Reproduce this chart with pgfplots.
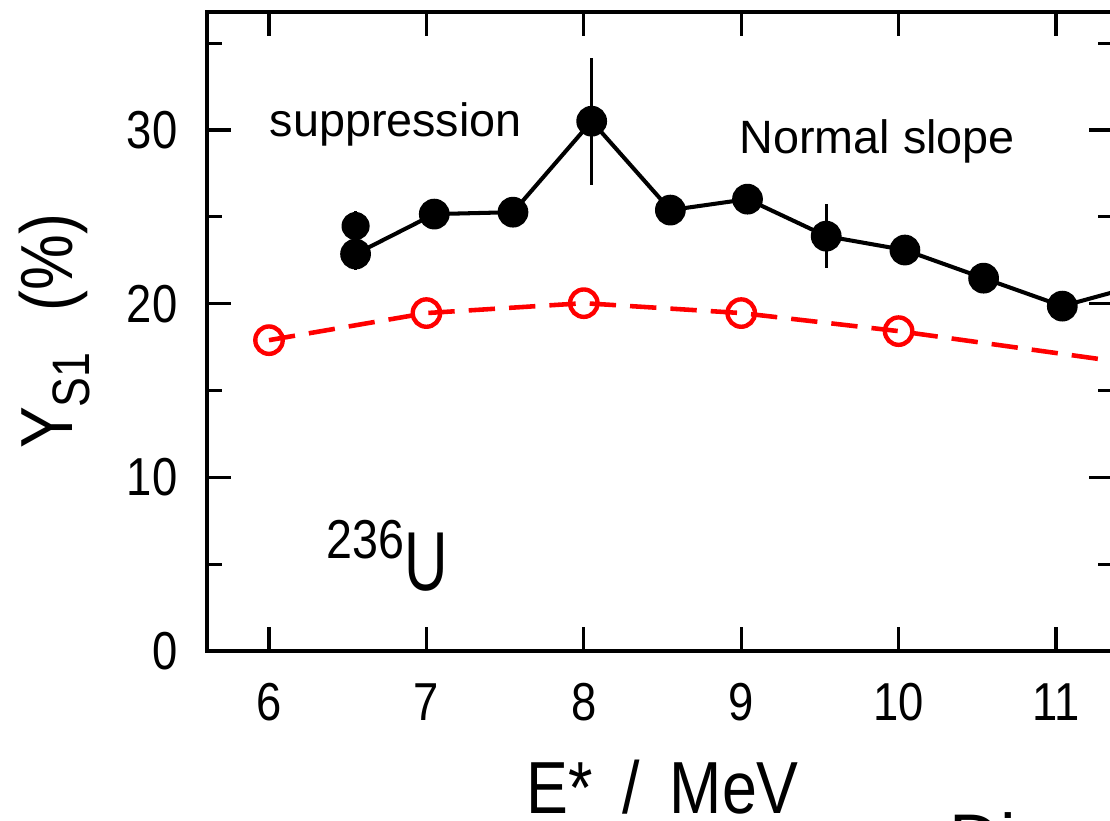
\documentclass[border=0pt]{standalone}
\usepackage{pgfplots}
\pgfplotsset{compat=1.18}
\usepackage{fontspec}
\setmainfont{Liberation Sans}
\newfontfamily\narrow[FakeStretch=0.85]{Liberation Sans}
\newfontfamily\narrowU[FakeStretch=0.72]{Liberation Sans}

\begin{document}
\begin{tikzpicture}
\useasboundingbox (-2.07,-1.70) rectangle (9.03,6.51);
\begin{scope}
\clip (-2.07,-1.70) rectangle (9.03,6.51);
\begin{axis}[
 at={(0,0)}, anchor=south west,
 scale only axis, width=9.06cm, height=6.39cm,
 xmin=5.606, xmax=11.362, ymin=0, ymax=36.8,
 clip=false,
 axis line style={line width=0.95pt},
 tick align=inside,
 xtick={6,...,11}, ytick={0,10,20,30},
 minor ytick={5,15,25,35},
 major tick length=0.24cm, minor tick length=0.15cm,
 every tick/.style={black, line width=0.9pt},
 /pgf/number format/assume math mode=true,
 ticklabel style={font=\narrow\fontsize{15.2}{18}\selectfont, inner sep=0pt},
 xticklabel style={yshift=-0.32cm},
 yticklabel style={xshift=-0.29cm},
 xlabel={E*\ \,/\ \,MeV},
 ylabel={Y\raisebox{-0.18cm}{\fontsize{15}{18}\selectfont S1}\hspace{0.55em}(\%)},
 label style={font=\narrow\fontsize{21}{24}\selectfont},
 xlabel style={at={(axis description cs:0.503,-0.255)}, anchor=base, inner sep=0pt},
 ylabel style={at={(axis description cs:-0.149,0.5)}, anchor=base, inner sep=0pt},
]
% black: measured Y_S1
\addplot[black, line width=1.15pt, mark=*, mark size=3.8pt, mark options={solid},
  error bars/.cd, y dir=both, y explicit, error mark=none,
  error bar style={line width=0.95pt}]
coordinates {
 (6.55,22.86) +- (0,0.9)
 (7.05,25.16) +- (0,0)
 (7.55,25.27) +- (0,0)
 (8.05,30.51) +- (0,3.65)
 (8.55,25.39) +- (0,0)
 (9.04,26.02) +- (0,0)
 (9.54,23.89) +- (0,1.85)
 (10.04,23.09) +- (0,0)
 (10.54,21.47) +- (0,0)
 (11.04,19.86) +- (0,0)
 (11.54,21.10) +- (0,0)
};
\addplot[black, only marks, mark=*, mark size=3.8pt,
  error bars/.cd, y dir=both, y explicit, error mark=none,
  error bar style={line width=0.95pt}]
coordinates {(6.55,24.47) +- (0,0.85)};
% red: calculation
\addplot[red, line width=1.3pt, dash pattern=on 7.5pt off 4pt,
  mark=o, mark size=3.9pt, mark options={solid, line width=1.25pt, fill=white}]
coordinates {
 (6,17.90) (7,19.46) (8,20.03) (9,19.46) (10,18.42) (12,15.90)
};
\node[anchor=base west, inner sep=0pt, font=\fontsize{13.3}{16}\selectfont] at (axis cs:6.0,29.6) {suppression};
\node[anchor=base west, inner sep=0pt, font=\fontsize{13.3}{16}\selectfont] at (axis cs:8.985,28.67) {Normal slope};
\node[anchor=base west, inner sep=0pt] at (axis cs:6.362,3.51)
 {{\narrow\fontsize{15.6}{18}\selectfont\raisebox{0.32cm}{236}}{\narrowU\fontsize{23.8}{28}\selectfont U}};
\node[anchor=north west, inner sep=0pt, font=\fontsize{20}{24}\selectfont] at (axis cs:10.32,-9.25) {Di};
\end{axis}
\end{scope}
\end{tikzpicture}
\end{document}
